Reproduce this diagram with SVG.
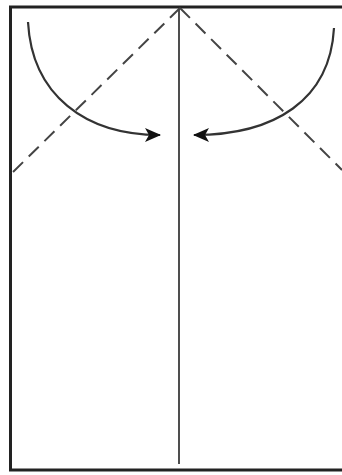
<svg xmlns="http://www.w3.org/2000/svg" width="342" height="475" viewBox="0 0 342 475">
<style>
.border{fill:none;stroke:#222;stroke-width:3}
.fold{fill:none;stroke:#222;stroke-width:1.6}
.dash{fill:none;stroke:#444;stroke-width:2;stroke-dasharray:14,8}
.arc{fill:none;stroke:#333;stroke-width:2.2}
</style>
<defs>
<marker id="ah" markerWidth="16" markerHeight="14" refX="15" refY="7" orient="auto" markerUnits="userSpaceOnUse" viewBox="0 0 16 14">
<path d="M0,0 L16,7 L0,14 L4,7 Z" fill="#111"/>
</marker>
</defs>
<rect width="342" height="475" fill="#fff"/>
<g id="paper">
<path class="border" d="M345,7 H10.5 V470 H345"/>
<line class="fold" x1="179" y1="8" x2="179" y2="464"/>
</g>
<g id="dashes">
<line class="dash" x1="180" y1="8" x2="13" y2="172"/>
<line class="dash" x1="180" y1="8" x2="342" y2="170"/>
</g>
<g id="connectors">
<path class="arc" d="M28,22 C32,95 85,135 160,135" marker-end="url(#ah)"/>
<path class="arc" d="M334,28 C330,100 275,135 194,135" marker-end="url(#ah)"/>
</g>
</svg>
